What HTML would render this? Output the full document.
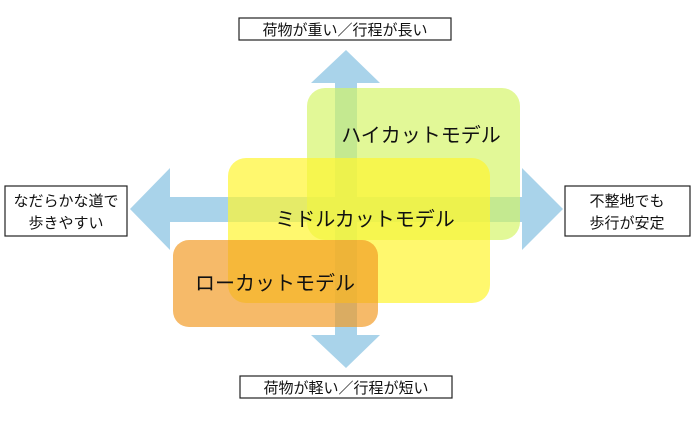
<!DOCTYPE html>
<html><head><meta charset="utf-8"><style>
body{margin:0;background:#fff;width:695px;height:426px;overflow:hidden;font-family:"Liberation Sans","Noto Sans CJK JP",sans-serif}
</style></head><body>
<svg width="695" height="426" xmlns="http://www.w3.org/2000/svg" font-family="'Liberation Sans','Noto Sans CJK JP',sans-serif">
<g fill="#a9d3ea">
<polygon points="346,50 380,83 357,83 357,335 380,335 346,368 311,335 335,335 335,83 311,83"/>
<polygon points="130,209 170,168 170,197 522,197 522,168 563,209 522,250 522,222 170,222 170,250"/>
</g>
<rect x="307" y="88" width="213" height="152" rx="18" fill="#d2f560" opacity="0.65"/>
<rect x="228" y="158" width="262" height="145" rx="18" fill="#fff530" opacity="0.7"/>
<rect x="173" y="240" width="205" height="87" rx="16" fill="#f29a22" opacity="0.68"/>
<g font-size="20" fill="#111" text-anchor="middle">
<text x="421" y="142">ハイカットモデル</text>
<text x="365" y="226">ミドルカットモデル</text>
<text x="275" y="290">ローカットモデル</text>
</g>
<g fill="#fff" stroke="#222" stroke-width="1.2">
<rect x="239" y="18" width="212" height="22"/>
<rect x="240" y="376" width="212" height="22"/>
<rect x="5" y="186" width="122" height="50"/>
<rect x="565" y="186" width="125" height="50"/>
</g>
<g font-size="15" fill="#111" text-anchor="middle">
<text x="345" y="35">荷物が重い／行程が長い</text>
<text x="346" y="393">荷物が軽い／行程が短い</text>
<text x="66" y="206">なだらかな道で</text>
<text x="66" y="228">歩きやすい</text>
<text x="627" y="206">不整地でも</text>
<text x="627" y="228">歩行が安定</text>
</g>
</svg>
</body></html>
